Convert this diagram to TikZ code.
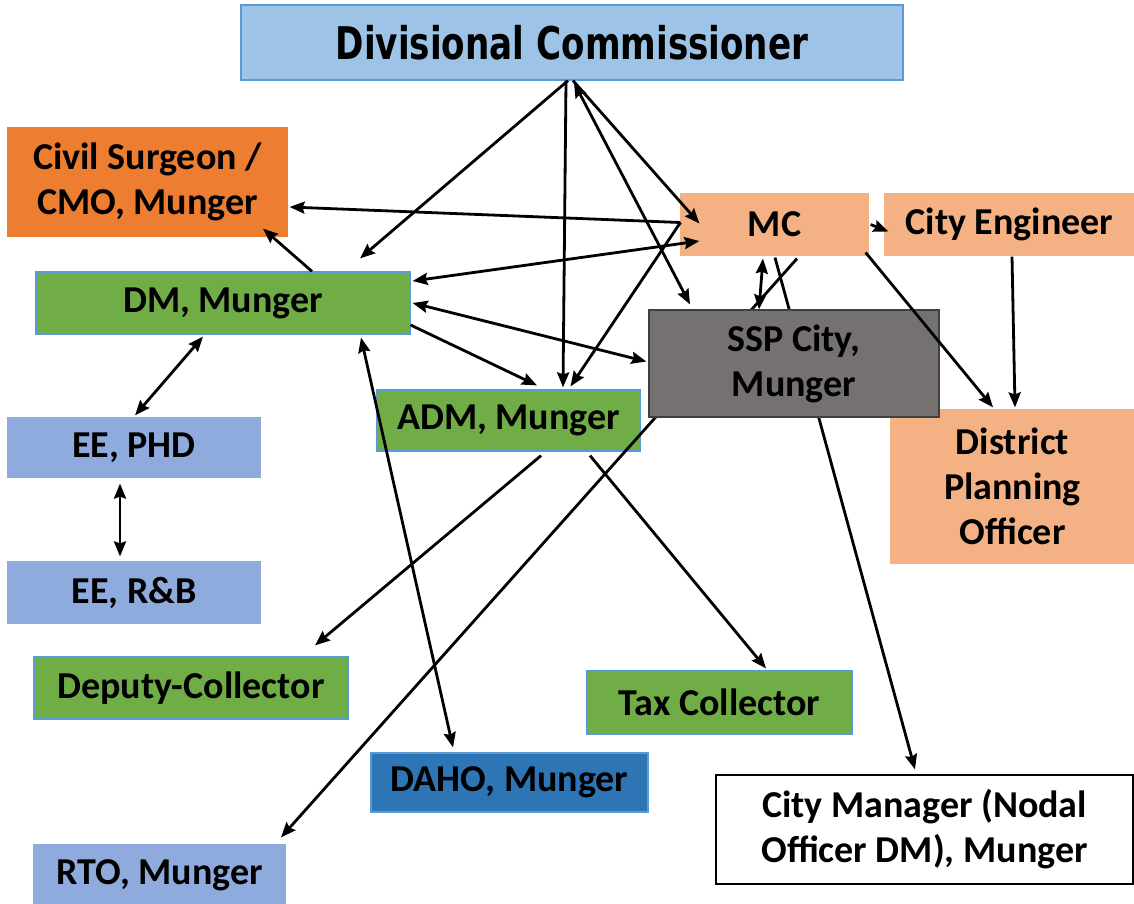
\documentclass[tikz,border=0pt]{standalone}
\usepackage{fontspec}
\setmainfont{Carlito}
\newfontfamily\dcfont[FakeStretch=0.76]{DejaVu Sans}
\usetikzlibrary{arrows.meta,calc}
\definecolor{dcfill}{HTML}{9DC3E6}
\definecolor{blueline}{HTML}{5B9BD5}
\definecolor{civfill}{HTML}{ED7D31}
\definecolor{peach}{HTML}{F4B183}
\definecolor{grn}{HTML}{70AD47}
\definecolor{sspfill}{HTML}{767171}
\definecolor{sspline}{HTML}{404040}
\definecolor{eefill}{HTML}{8FAADC}
\definecolor{dahofill}{HTML}{2E75B6}
\begin{document}
\begin{tikzpicture}[x=1pt,y=-1pt,
  box/.style={rectangle, inner sep=0pt, align=center,
    font=\fontsize{38}{45}\selectfont\bfseries, text=black, line width=1.2pt},
  dcbox/.style={box, fill=dcfill, draw=blueline},
  peachbox/.style={box, fill=peach, draw=peach},
  greenbox/.style={box, fill=grn, draw=blueline},
  eebox/.style={box, fill=eefill, draw=eefill},
  tip/.tip={Stealth[length=15pt,width=12pt,inset=2pt]},
  arr/.style={line width=2.8pt, -tip},
  darr/.style={line width=2.8pt, tip-tip}]
\useasboundingbox (0,0) rectangle (1134,903);

% nodes
\node[dcbox, minimum width=662pt, minimum height=75pt,
  font=\dcfont\fontsize{45}{45}\selectfont\bfseries] (dc) at (572,42.5) {Divisional Commissioner};
\node[box, fill=civfill, draw=civfill, minimum width=279pt, minimum height=108pt] (civ) at (147.5,182) {Civil Surgeon /\\CMO, Munger};
\node[peachbox, minimum width=187pt, minimum height=61pt] (mc) at (774.5,224.5) {MC};
\node[peachbox, minimum width=249pt, minimum height=61pt] (ce) at (1009.5,224.5) {City Engineer};
\node[greenbox, minimum width=374pt, minimum height=62pt] (dm) at (223,303) {DM, Munger};
\node[greenbox, minimum width=263pt, minimum height=61pt] (adm) at (508.5,420.5) {ADM, Munger};
\node[peachbox, minimum width=243pt, minimum height=153pt] (dpo) at (1012.5,486.5) {District\\Planning\\Officer};
\node[eebox, minimum width=252pt, minimum height=59pt] (ephd) at (134,447.5) {EE, PHD};
\node[eebox, minimum width=252pt, minimum height=61pt] (err) at (134,592.5) {EE, R\&B};
\node[greenbox, minimum width=314pt, minimum height=62pt] (dep) at (191,688) {Deputy-Collector};
\node[greenbox, minimum width=265pt, minimum height=63pt] (tax) at (719.5,702.5) {Tax Collector};
\node[box, fill=dahofill, draw=blueline, minimum width=277pt, minimum height=59pt] (daho) at (509.5,782.5) {DAHO, Munger};
\node[eebox, minimum width=251pt, minimum height=60pt] (rto) at (159.5,875) {RTO, Munger};
\node[box, fill=white, draw=black, minimum width=417pt, minimum height=109pt] (cm) at (924.5,829.5) {City Manager (Nodal\\Officer DM), Munger};

% connectors passing behind SSP
\draw[arr] ($(mc.south)+(22.5,3)$) -- ($(rto.north)+(121.5,-7)$);
\draw[arr] ($(mc.south)+(0.5,2)$) -- ($(cm.north)+(-9.5,-5)$);

\node[box, fill=sspfill, draw=sspline, minimum width=290pt, minimum height=107pt] (ssp) at (794,363.5) {SSP City,\\Munger};

% other connectors
\draw[arr] ($(dc.south)+(-4,0)$) -- ($(dm.north)+(137,-13)$);
\draw[arr] ($(dc.south)+(-6,0)$) -- ($(adm.north)+(54.5,-2)$);
\draw[arr] ($(dc.south)+(1,0)$) -- ($(mc.west)+(19,-1)$);
\draw[darr] ($(dc.south)+(2,2)$) -- ($(ssp.north)+(-104,-5)$);
\draw[arr] ($(mc.west)+(0,-2)$) -- ($(civ.east)+(2,25)$);
\draw[arr] ($(mc.west)+(0,-2)$) -- ($(adm.north)+(62,-3)$);
\draw[darr] ($(dm.east)+(2,-22)$) -- ($(mc.west)+(19,16.5)$);
\draw[darr] ($(dm.east)+(2,0)$) -- ($(ssp.west)+(-2,-2)$);
\draw[arr] ($(dm.north)+(89,0)$) -- ($(civ.south)+(115.5,-8)$);
\draw[darr] ($(dm.south)+(-20,2)$) -- ($(ephd.north)+(1,-2)$);
\draw[darr] ($(ephd.south)+(-14,6)$) -- ($(err.north)+(-14,-5)$);
\draw[arr] ($(dm.east)+(0,22)$) -- ($(adm.north)+(28.5,-4)$);
\draw[darr] ($(dm.south)+(138,3)$) -- ($(daho.north)+(-56.5,-5)$);
\draw[arr] ($(adm.south)+(32.5,4)$) -- ($(dep.north)+(124,-11)$);
\draw[arr] ($(adm.south)+(81.5,4)$) -- ($(tax.north)+(46.5,-2)$);
\draw[darr] ($(ssp.north)+(-35,0)$) -- ($(mc.south)+(-11.5,3)$);
\draw[arr] ($(mc.east)+(2,0)$) -- ($(ce.west)+(4,7)$);
\draw[arr] ($(mc.east)+(-3,28)$) -- ($(dpo.north)+(-19.5,-2)$);
\draw[arr] ($(ce.south)+(2.5,1)$) -- ($(dpo.north)+(2.5,-2)$);
\end{tikzpicture}
\end{document}
